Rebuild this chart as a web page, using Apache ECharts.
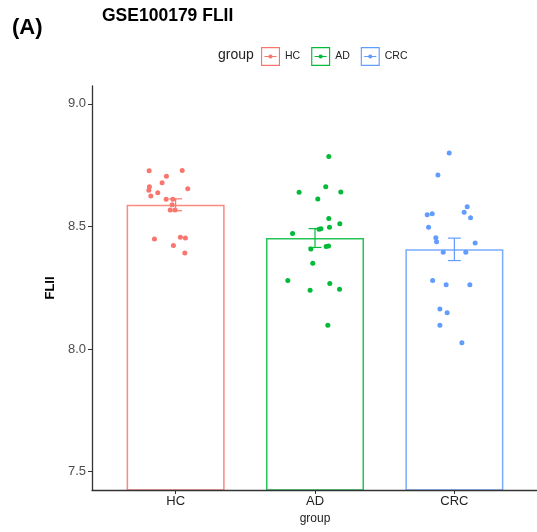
<!DOCTYPE html>
<html>
<head>
<meta charset="utf-8">
<script src="https://cdn.jsdelivr.net/npm/echarts@6/dist/echarts.min.js"></script>
<style>
html,body{margin:0;padding:0;background:#fff;}
#chart{width:537px;height:532px;}
</style>
</head>
<body>
<div id="chart"></div>
<script>
// ---- data ----
const categories = ['HC', 'AD', 'CRC'];
const groupColors = ['#F8766D', '#00BA38', '#619CFF'];
const hcValues  = [8.727, 8.728, 8.705, 8.678, 8.662, 8.648, 8.654, 8.638, 8.624, 8.611, 8.611, 8.589, 8.567, 8.567, 8.449, 8.456, 8.453, 8.422, 8.392];
const hcJitter  = [-0.190, 0.047, -0.066, -0.097, -0.188, -0.192, 0.087, -0.128, -0.178, -0.068, -0.020, -0.025, -0.039, -0.004, -0.152, 0.034, 0.070, -0.016, 0.066];
const adValues  = [8.785, 8.662, 8.640, 8.641, 8.612, 8.533, 8.511, 8.497, 8.491, 8.489, 8.471, 8.408, 8.418, 8.420, 8.350, 8.280, 8.267, 8.240, 8.244, 8.097];
const adJitter  = [0.099, 0.077, -0.114, 0.185, 0.020, 0.099, 0.178, 0.104, 0.042, 0.029, -0.161, -0.030, 0.080, 0.097, -0.016, -0.195, 0.106, -0.035, 0.176, 0.092];
const crcValues = [8.800, 8.710, 8.580, 8.548, 8.552, 8.558, 8.536, 8.497, 8.454, 8.438, 8.433, 8.395, 8.395, 8.280, 8.262, 8.262, 8.163, 8.148, 8.097, 8.026];
const crcJitter = [-0.037, -0.118, 0.092, -0.195, -0.159, 0.070, 0.116, -0.185, -0.133, -0.128, 0.149, -0.080, 0.082, -0.156, -0.059, 0.111, -0.104, -0.052, -0.104, 0.054];
const yTicks = [7.5, 8.0, 8.5, 9.0];
const titleText = 'GSE100179 FLII';
const panelLabel = '(A)';
const yName = 'FLII';
const xName = 'group';

// ---- helpers ----
const FONT = '"Liberation Sans", Arial, sans-serif';
const groups = [hcValues, adValues, crcValues];
const jitters = [hcJitter, adJitter, crcJitter];
function mean(a) { return a.reduce((s, v) => s + v, 0) / a.length; }
function se(a) {
  const m = mean(a);
  const v = a.reduce((s, x) => s + (x - m) * (x - m), 0) / (a.length - 1);
  return Math.sqrt(v / a.length);
}
const legendIcon = 'path://M0 0H100V100H0Z M6 6V94H94V6Z M18 47.5H82V52.5H18Z M39 50A11 11 0 1 1 61 50A11 11 0 1 1 39 50Z';

const series = [];
categories.forEach((name, i) => {
  const c = groupColors[i];
  const m = mean(groups[i]);
  const s = se(groups[i]);
  series.push({
    type: 'bar', name: name,
    data: [[i + 1, m]],
    barWidth: 98, barGap: '-100%',
    itemStyle: { color: 'rgba(255,255,255,0)', borderColor: c, borderWidth: 1.5, opacity: 0.85 },
    emphasis: { disabled: true },
    silent: true, z: 2
  });
  series.push({
    type: 'custom', name: name,
    data: [[i + 1, m - s, m + s]],
    renderItem: function (params, api) {
      const x = api.value(0);
      const lo = api.coord([x, api.value(1)]);
      const hi = api.coord([x, api.value(2)]);
      const half = api.size([0.093, 0])[0] / 2;
      const st = { stroke: c, lineWidth: 1.2 };
      return {
        type: 'group',
        children: [
          { type: 'line', shape: { x1: lo[0], y1: lo[1], x2: hi[0], y2: hi[1] }, style: st },
          { type: 'line', shape: { x1: lo[0] - half, y1: lo[1], x2: lo[0] + half, y2: lo[1] }, style: st },
          { type: 'line', shape: { x1: hi[0] - half, y1: hi[1], x2: hi[0] + half, y2: hi[1] }, style: st }
        ]
      };
    },
    silent: true, z: 3
  });
  series.push({
    type: 'scatter', name: name,
    data: groups[i].map((v, k) => [i + 1 + jitters[i][k], v]),
    symbol: 'circle', symbolSize: 5,
    itemStyle: { color: c, opacity: 1 },
    silent: true, z: 4
  });
});

const chart = echarts.init(document.getElementById('chart'), null, { renderer: 'canvas' });
chart.setOption({
  animation: false,
  backgroundColor: '#ffffff',
  title: [
    { text: titleText, left: 102, top: 7, padding: 0, textStyle: { fontFamily: FONT, fontSize: 17.5, fontWeight: 'bold', color: '#000' } },
    { text: panelLabel, left: 12, top: 17, padding: 0, textStyle: { fontFamily: FONT, fontSize: 22, fontWeight: 'bold', color: '#000' } },
    { text: 'group', left: 218, top: 48, padding: 0, textStyle: { fontFamily: FONT, fontSize: 14, fontWeight: 'normal', color: '#222' } }
  ],
  legend: {
    left: 261, top: 47, padding: 0,
    itemWidth: 19, itemHeight: 19, itemGap: 11,
    selectedMode: false,
    textStyle: { fontFamily: FONT, fontSize: 10.5, color: '#222' },
    data: categories.map((n, i) => ({
      name: n, icon: legendIcon,
      itemStyle: { color: groupColors[i], borderWidth: 0, opacity: 1 }
    }))
  },
  grid: { left: 92, top: 86, width: 446, height: 404, containLabel: false, outerBoundsMode: 'none' },
  xAxis: {
    type: 'value', min: 0.4, max: 3.6, z: 10,
    name: xName, nameLocation: 'middle', nameGap: 22,
    nameTextStyle: { fontFamily: FONT, fontSize: 12, color: '#222' },
    axisLine: { show: true, lineStyle: { color: '#333', width: 1.3 } },
    axisTick: { show: true, length: 4, customValues: [1, 2, 3], lineStyle: { color: '#333', width: 1 } },
    axisLabel: {
      customValues: [1, 2, 3], margin: 5,
      formatter: v => categories[Math.round(v) - 1] || '',
      fontFamily: FONT, fontSize: 13, color: '#222'
    },
    splitLine: { show: false }
  },
  yAxis: {
    type: 'value', min: 7.425, max: 9.073, z: 10,
    name: yName, nameLocation: 'middle', nameGap: 35, nameRotate: 90,
    nameTextStyle: { fontFamily: FONT, fontSize: 13, fontWeight: 'bold', color: '#000' },
    axisLine: { show: true, lineStyle: { color: '#333', width: 1.3 } },
    axisTick: { show: true, length: 4, customValues: yTicks, lineStyle: { color: '#333', width: 1 } },
    axisLabel: {
      customValues: yTicks, margin: 6,
      formatter: v => v.toFixed(1),
      fontFamily: FONT, fontSize: 13, color: '#4d4d4d'
    },
    splitLine: { show: false }
  },
  series: series
});
</script>
</body>
</html>
